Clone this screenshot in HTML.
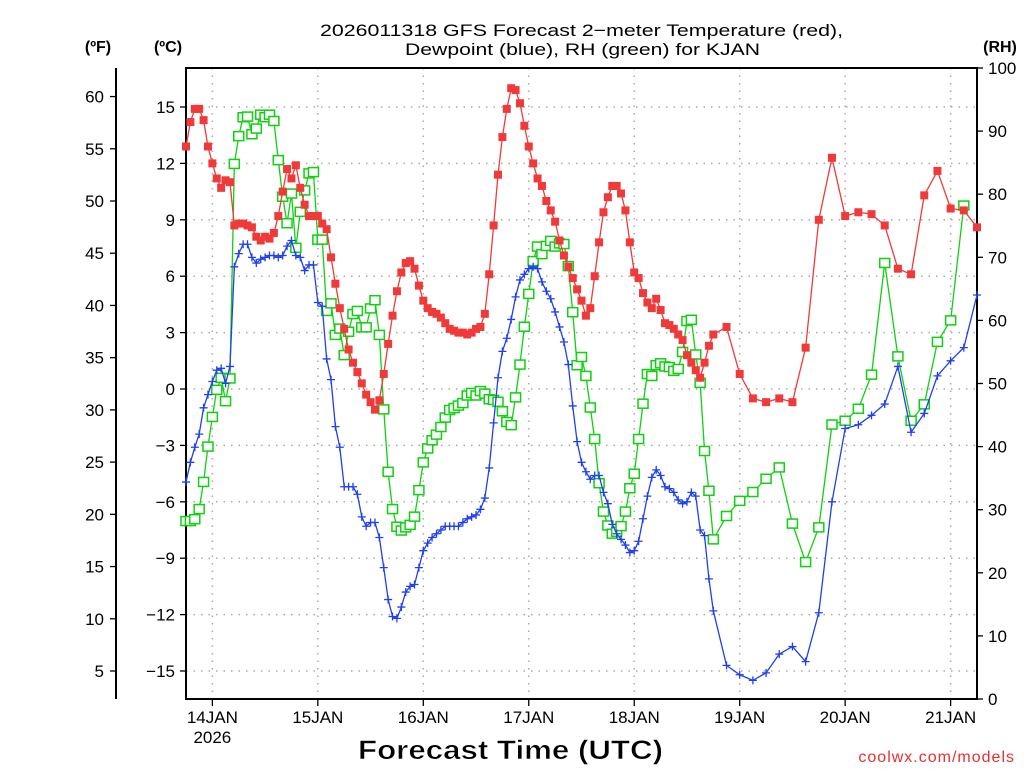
<!DOCTYPE html>
<html><head><meta charset="utf-8"><style>
html,body{margin:0;padding:0;background:#fff;}
svg text{font-family:"Liberation Sans",sans-serif;}
</style></head><body>
<svg id="chart" width="1024" height="768" viewBox="0 0 1024 768" xmlns="http://www.w3.org/2000/svg">
<text x="320" y="36" font-size="17" textLength="523" lengthAdjust="spacingAndGlyphs">2026011318 GFS Forecast 2−meter Temperature (red),</text>
<text x="405" y="55" font-size="17" textLength="355" lengthAdjust="spacingAndGlyphs">Dewpoint (blue), RH (green) for KJAN</text>
<text x="98" y="52" text-anchor="middle" font-size="16" font-weight="bold">(ºF)</text>
<text x="168" y="52" text-anchor="middle" font-size="16" font-weight="bold">(ºC)</text>
<text x="1000" y="52" text-anchor="middle" font-size="16" font-weight="bold">(RH)</text>
<text x="358" y="759" font-size="27" font-weight="bold" textLength="305" lengthAdjust="spacingAndGlyphs" stroke="#fff" stroke-width="0.6">Forecast Time (UTC)</text>
<text x="1015" y="762" text-anchor="end" font-size="16" fill="#e83030" font-family="Liberation Mono, monospace" letter-spacing="1">coolwx.com/models</text>
<g id="grid"></g><g id="axes"></g><g id="series"></g>
</svg>
<script>
const hours=[];for(let h=0;h<=120;h++)hours.push(h);for(let h=123;h<=180;h+=3)hours.push(h);
const tempC=[12.9,14.2,14.9,14.9,14.3,12.9,12.0,11.2,10.7,11.1,11.0,8.7,8.8,8.8,8.7,8.6,8.1,7.9,8.1,8.0,8.3,9.2,10.5,11.7,11.2,11.9,10.7,9.8,9.2,9.2,9.2,8.8,8.5,7.0,5.6,4.3,3.2,2.1,1.4,0.9,0.3,-0.3,-0.7,-1.1,-0.6,0.8,2.4,
3.9,5.2,6.2,6.7,6.8,6.4,5.5,4.7,4.3,4.1,4.0,3.8,3.5,3.2,3.1,3.0,3.0,2.9,3.0,3.2,3.3,4.0,6.1,8.7,11.4,13.4,14.9,16.0,15.9,15.2,14.0,12.9,12.0,11.2,10.8,10.0,9.5,8.9,7.9,7.1,6.5,5.9,5.3,4.7,3.9,
4.3,6.0,7.8,9.4,10.2,10.8,10.8,10.4,9.5,7.8,6.2,5.9,5.1,4.6,4.3,4.8,4.2,3.5,3.4,3.2,2.9,2.6,1.8,1.4,1.0,0.6,1.4,2.3,2.9,
3.3,0.8,-0.5,-0.7,-0.5,-0.7,2.2,9.0,12.3,9.2,9.4,9.3,8.7,6.4,6.1,10.3,11.6,9.6,9.5,8.6];
const dewC=[-4.95,-3.9,-3.1,-2.4,-1.0,-0.3,0.4,1.0,1.1,0.3,1.2,6.5,7.2,7.7,7.7,7.0,6.7,6.9,7.0,7.1,7.1,7.0,7.1,7.6,7.9,7.1,7.0,6.3,6.6,6.6,4.6,4.4,1.6,0.5,-2.0,-3.1,-5.2,-5.2,-5.2,-5.6,-6.8,-7.3,-7.1,-7.1,-7.9,-9.5,-11.2,
-12.1,-12.2,-11.6,-10.8,-10.5,-10.4,-9.5,-8.6,-8.2,-7.9,-7.7,-7.5,-7.3,-7.3,-7.3,-7.3,-7.1,-6.9,-6.8,-6.7,-6.4,-5.8,-4.2,-1.8,0.6,2.0,2.7,3.7,4.9,5.8,6.1,6.4,6.5,6.4,5.7,5.2,4.8,4.1,3.3,2.5,1.3,-0.9,-2.8,
-3.9,-4.4,-4.8,-4.6,-4.6,-5.5,-6.1,-7.2,-7.7,-8.0,-8.3,-8.7,-8.6,-8.1,-6.9,-5.7,-4.7,-4.3,-4.6,-5.2,-5.3,-5.5,-5.9,-6.1,-6.0,-5.5,-5.7,-7.5,-7.8,-10.1,-11.8,
-14.7,-15.2,-15.5,-15.1,-14.1,-13.7,-14.5,-11.9,-6.0,-2.1,-1.9,-1.4,-0.8,1.2,-2.3,-1.3,0.7,1.5,2.2,5.0];
const rhPct=[28.2,28.2,28.5,30.1,34.4,40.0,44.7,49.0,50.9,47.2,50.8,84.8,89.2,92.2,92.3,89.5,90.4,92.6,92.2,92.6,91.6,85.4,79.6,75.4,80.1,71.5,77.2,80.6,83.3,83.5,72.8,72.8,61.5,62.7,57.7,58.7,54.5,58.2,61.0,61.5,58.9,58.9,61.9,63.2,57.7,45.9,36.0,
30.1,27.3,26.7,27.2,27.6,28.9,33.1,37.5,39.7,41.0,41.9,43.1,44.6,45.8,46.1,46.5,46.9,48.1,48.5,48.1,48.8,48.4,47.5,47.4,47.1,45.6,43.9,43.4,47.8,53.0,59.0,64.2,69.4,71.7,70.5,71.8,72.6,71.7,72.2,72.1,68.6,61.3,
52.9,54.2,51.2,46.2,41.2,34.2,29.7,27.5,26.2,26.5,27.4,29.7,33.4,35.7,41.2,46.8,51.5,51.2,52.9,53.2,52.7,52.6,52.0,52.3,55.0,59.9,60.1,54.6,50.1,39.3,33.0,
25.3,29.0,31.4,32.8,34.9,36.7,27.8,21.7,27.2,43.5,44.1,46.0,51.4,69.1,54.3,44.1,46.7,56.6,60.0,78.2];
const cTicks=[15,12,9,6,3,0,-3,-6,-9,-12,-15];
const fTicks=[60,55,50,45,40,35,30,25,20,15,10,5];
const rhTicks=[0,10,20,30,40,50,60,70,80,90,100];
const dayLabels=["14JAN","15JAN","16JAN","17JAN","18JAN","19JAN","20JAN","21JAN"];
const X0=186,X1=977,Y0=68,Y1=699;
const xs=h=>X0+(h/180)*(X1-X0);
const yC=c=>389-c*18.8;
const yF=f=>yC((f-32)*5/9);
const yRH=r=>Y1-r/100*(Y1-Y0);
const NS="http://www.w3.org/2000/svg";
function mk(tag,attrs,parent,txt){const e=document.createElementNS(NS,tag);for(const k in attrs)e.setAttribute(k,attrs[k]);if(txt!==undefined)e.textContent=txt;parent.appendChild(e);return e;}
const G=document.getElementById('grid'),A=document.getElementById('axes'),S=document.getElementById('series');
cTicks.forEach(c=>{const y=yC(c);
 const l=mk('line',{x1:X0,x2:X1,y1:y,y2:y,stroke:'#aaa','stroke-width':1.5,'stroke-dasharray':'1.5 6'},G);
 
 mk('line',{x1:X0-6,x2:X0,y1:y,y2:y,stroke:'#000','stroke-width':1.3},A);
 const t=mk('text',{x:X0-11,y:y+6,'text-anchor':'end','font-size':17},A,c<0?'−'+(-c):String(c));
 });
fTicks.forEach(f=>{const y=yF(f);
 mk('line',{x1:110,x2:116,y1:y,y2:y,stroke:'#000','stroke-width':1.3},A);
 const t=mk('text',{x:104,y:y+6,'text-anchor':'end','font-size':17},A,String(f));
 });
rhTicks.forEach(r=>{const y=yRH(r);
 mk('line',{x1:X1,x2:X1+6,y1:y,y2:y,stroke:'#000','stroke-width':1.3},A);
 const t=mk('text',{x:988,y:y+6,'text-anchor':'start','font-size':17},A,String(r));
 });
dayLabels.forEach((d,i)=>{const x=xs(6+24*i);
 const l=mk('line',{x1:x,x2:x,y1:Y0,y2:Y1,stroke:'#aaa','stroke-width':1.5,'stroke-dasharray':'1.5 6'},G);
 
 mk('line',{x1:x,x2:x,y1:Y1,y2:Y1+7,stroke:'#000','stroke-width':1.3},A);
 const t=mk('text',{x:x,y:723,'text-anchor':'middle','font-size':17},A,d);
 });
const yr=mk('text',{x:xs(6),y:743,'text-anchor':'middle','font-size':17},A,'2026');

const fr=mk('rect',{x:X0,y:Y0,width:X1-X0,height:Y1-Y0,fill:'none',stroke:'#000','stroke-width':2},A);

const fa=mk('line',{x1:116,x2:116,y1:Y0,y2:Y1,stroke:'#000','stroke-width':2},A);

function series(vals,yf,color,name,marker){
 const pts=vals.map((v,i)=>[xs(hours[i]),yf(v)]);
 const g=mk('g',{},S);
 const pl=mk('polyline',{points:pts.map(p=>p.join(',')).join(' '),fill:'none',stroke:color,'stroke-width':1.3},g);
 
 pts.forEach(p=>{let m;
  if(marker==='fill')m=mk('rect',{x:p[0]-4,y:p[1]-4,width:8,height:8,fill:color},g);
  else if(marker==='box')m=mk('rect',{x:p[0]-5,y:p[1]-4.5,width:10,height:9,fill:'#fff',stroke:color,'stroke-width':1.5},g);
  else m=mk('path',{d:`M${p[0]-4},${p[1]}H${p[0]+4}M${p[0]},${p[1]-4}V${p[1]+4}`,stroke:color,'stroke-width':1.3},g);
  });
}
series(rhPct,yRH,'#10d010','rh','box');
series(dewC,yC,'#2040f0','dewpoint','plus');
series(tempC,yC,'#f03a3a','temperature','fill');
</script>
</body></html>
